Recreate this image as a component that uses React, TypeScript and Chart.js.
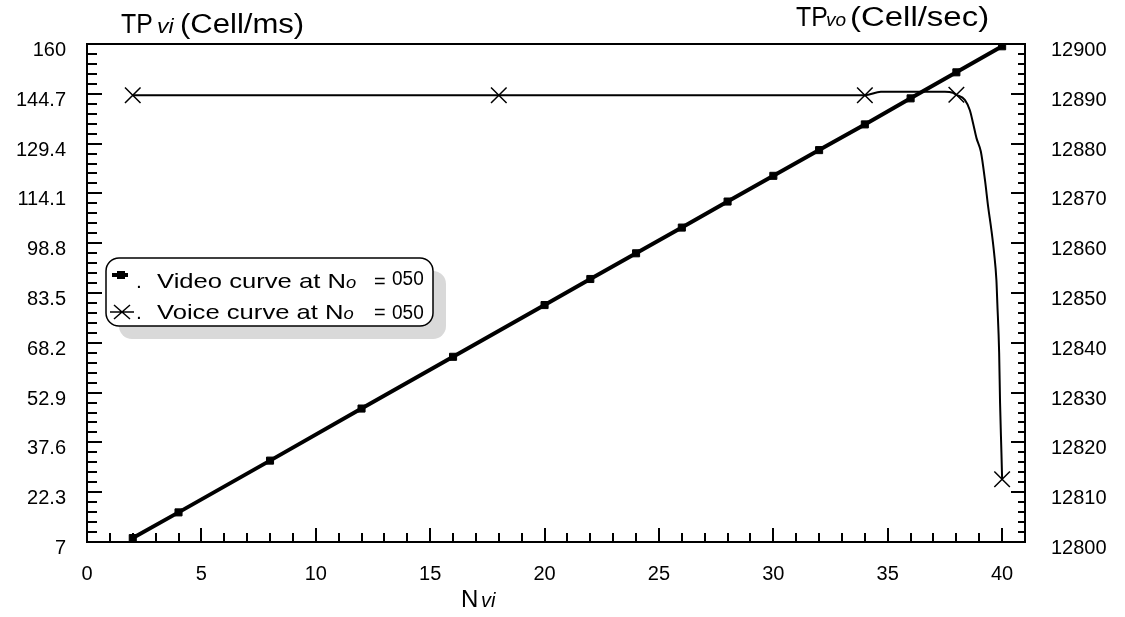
import React, { useEffect, useRef } from "react";
import { Chart, registerables } from "chart.js";

Chart.register(...registerables);

// Video throughput (Cell/ms) against number of video sources
const videoX = [2, 4, 8, 12, 16, 20, 22, 24, 26, 28, 30, 32, 34, 36, 38, 40];
const videoY = [8.2, 16.1, 32.0, 48.0, 63.9, 79.8, 87.8, 95.7, 103.6, 111.6, 119.5, 127.4, 135.3, 143.3, 151.3, 159.3];

const voiceX = [2, 18, 34, 34.7, 37.5, 37.85, 38, 38.37, 38.59, 38.73, 38.88, 39.07, 39.25, 39.39, 39.53, 39.65, 39.75, 39.79, 39.87, 39.91, 39.97, 40];
const voiceY = [12889.7, 12889.7, 12889.7, 12890.4, 12890.4, 12890.2, 12889.8, 12888.8, 12886.7, 12884.1, 12881.1, 12878.4, 12872.7, 12867.3, 12862.7, 12858.0, 12852.6, 12848.0, 12838.0, 12827.9, 12817.9, 12812.6];
const voiceMarked = [2, 18, 34, 38, 40];

// Axis ticks
const xTicks = [0, 5, 10, 15, 20, 25, 30, 35, 40];
const leftTicks = [7, 22.3, 37.6, 52.9, 68.2, 83.5, 98.8, 114.1, 129.4, 144.7, 160];
const rightTicks = [12800, 12810, 12820, 12830, 12840, 12850, 12860, 12870, 12880, 12890, 12900];

const FONT = "'Liberation Sans', Arial, sans-serif";

// Draws text with an optional horizontal stretch; returns the drawn width
function stretchText(
  ctx: CanvasRenderingContext2D,
  s: string,
  x: number,
  y: number,
  font: string,
  align: CanvasTextAlign,
  sx = 1
) {
  ctx.save();
  ctx.font = font;
  const w = ctx.measureText(s).width * sx;
  ctx.translate(x, y);
  ctx.scale(sx, 1);
  ctx.textAlign = align;
  ctx.textBaseline = "alphabetic";
  ctx.fillText(s, 0, 0);
  ctx.restore();
  return w;
}

const framePlugin = {
  id: "frame",
  afterDatasetsDraw(chart: any) {
    const { ctx, chartArea: a, scales } = chart;
    const xs = scales.x;
    const yl = scales.y;
    const yr = scales.y2;
    ctx.save();
    ctx.strokeStyle = "#000";
    ctx.fillStyle = "#000";

    // frame
    ctx.lineWidth = 2;
    ctx.strokeRect(a.left, a.top, a.right - a.left, a.bottom - a.top);

    // inward tick marks
    ctx.lineWidth = 2;
    ctx.beginPath();
    for (let v = 1; v <= 40; v++) {
      const px = Math.round(xs.getPixelForValue(v));
      const len = v % 5 === 0 ? 14 : 9;
      ctx.moveTo(px, a.bottom);
      ctx.lineTo(px, a.bottom - len);
    }
    for (let i = 0; i < leftTicks.length - 1; i++) {
      const step = (leftTicks[i + 1] - leftTicks[i]) / 5;
      for (let k = 0; k < 5; k++) {
        if (i === 0 && k === 0) continue;
        const py = Math.round(yl.getPixelForValue(leftTicks[i] + k * step));
        ctx.moveTo(a.left, py);
        ctx.lineTo(a.left + (k === 0 ? 15 : 10), py);
      }
    }
    for (let i = 0; i < rightTicks.length - 1; i++) {
      const step = (rightTicks[i + 1] - rightTicks[i]) / 5;
      for (let k = 0; k < 5; k++) {
        if (i === 0 && k === 0) continue;
        const py = Math.round(yr.getPixelForValue(rightTicks[i] + k * step));
        ctx.moveTo(a.right, py);
        ctx.lineTo(a.right - (k === 0 ? 14 : 7), py);
      }
    }
    ctx.stroke();

    // tick labels
    const tickFont = `20px ${FONT}`;
    xTicks.forEach((v) => {
      stretchText(ctx, String(v), xs.getPixelForValue(v), 580, tickFont, "center");
    });
    leftTicks.forEach((v) => {
      stretchText(ctx, String(v), 66, yl.getPixelForValue(v) + 12, tickFont, "right");
    });
    rightTicks.forEach((v) => {
      stretchText(ctx, String(v), 1051, yr.getPixelForValue(v) + 12, tickFont, "left");
    });

    // axis titles
    const big = `27px ${FONT}`;
    stretchText(ctx, "TP", 121, 33, big, "left", 0.92);
    stretchText(ctx, "vi", 157, 33, `italic 21px ${FONT}`, "left", 1.1);
    stretchText(ctx, "(Cell/ms)", 180, 33, big, "left", 1.15);

    stretchText(ctx, "TP", 796, 26, big, "left", 0.92);
    stretchText(ctx, "vo", 826, 26, `italic 19px ${FONT}`, "left", 1.0);
    stretchText(ctx, "(Cell/sec)", 850, 26, big, "left", 1.22);

    stretchText(ctx, "N", 461, 607, `24px ${FONT}`, "left");
    stretchText(ctx, "vi", 481, 607, `italic 20px ${FONT}`, "left");

    // legend box with drop shadow
    const lx = 106, ly = 258, lw = 327, lh = 68, r = 13;
    const rr = (x: number, y: number) => {
      ctx.beginPath();
      ctx.moveTo(x + r, y);
      ctx.arcTo(x + lw, y, x + lw, y + lh, r);
      ctx.arcTo(x + lw, y + lh, x, y + lh, r);
      ctx.arcTo(x, y + lh, x, y, r);
      ctx.arcTo(x, y, x + lw, y, r);
      ctx.closePath();
    };
    ctx.fillStyle = "#d9d9d9";
    rr(lx + 13, ly + 13);
    ctx.fill();
    ctx.fillStyle = "#fff";
    rr(lx, ly);
    ctx.fill();
    ctx.lineWidth = 1.5;
    ctx.strokeStyle = "#000";
    ctx.stroke();

    ctx.fillStyle = "#000";
    // video sample
    ctx.lineWidth = 4;
    ctx.beginPath();
    ctx.moveTo(112, 275);
    ctx.lineTo(128, 275);
    ctx.stroke();
    ctx.fillRect(117, 271, 8, 8);
    // voice sample
    ctx.lineWidth = 1.5;
    ctx.beginPath();
    ctx.moveTo(110, 312);
    ctx.lineTo(134, 312);
    ctx.moveTo(114, 305);
    ctx.lineTo(130, 319);
    ctx.moveTo(130, 305);
    ctx.lineTo(114, 319);
    ctx.stroke();

    const lf = `21px ${FONT}`;
    const rows: [string, number, number][] = [
      ["Video curve at N", 288, 285],
      ["Voice curve at N", 319, 319],
    ];
    rows.forEach(([label, base, numBase]) => {
      stretchText(ctx, ".", 136, base, lf, "left");
      const w = stretchText(ctx, label, 157, base, lf, "left", 1.22);
      stretchText(ctx, "o", 157 + w, base, `italic 16px ${FONT}`, "left", 1.15);
      stretchText(ctx, "=", 374, base, lf, "left", 0.95);
      stretchText(ctx, "050", 392, numBase, `20px ${FONT}`, "left", 0.95);
    });

    ctx.restore();
  },
};

export default function App() {
  const ref = useRef<HTMLCanvasElement | null>(null);

  useEffect(() => {
    if (!ref.current) return;
    const videoData = videoX.map((x, i) => ({ x, y: videoY[i] }));
    const voiceData = voiceX.map((x, i) => ({ x, y: voiceY[i] }));
    const voiceRadius = voiceX.map((x) => (voiceMarked.includes(x) ? 11 : 0));

    const zeroW = (s: any) => {
      s.width = 0;
    };
    const zeroH = (s: any) => {
      s.height = 0;
    };

    const chart = new Chart(ref.current, {
      type: "line",
      data: {
        datasets: [
          {
            label: "Video",
            data: videoData,
            yAxisID: "y",
            borderColor: "#000",
            backgroundColor: "#000",
            borderWidth: 4,
            pointStyle: "rect",
            pointRadius: 5,
            pointBorderWidth: 1,
            tension: 0,
          },
          {
            label: "Voice",
            data: voiceData,
            yAxisID: "y2",
            borderColor: "#000",
            backgroundColor: "#000",
            borderWidth: 2,
            pointStyle: "crossRot",
            pointRadius: voiceRadius,
            pointBorderWidth: 1.5,
            cubicInterpolationMode: "monotone",
          },
        ],
      },
      options: {
        animation: false,
        responsive: false,
        maintainAspectRatio: false,
        layout: { padding: { left: 87, right: 100, top: 44, bottom: 75 } },
        plugins: { legend: { display: false }, tooltip: { enabled: false } },
        scales: {
          x: {
            type: "linear",
            min: 0,
            max: 41,
            afterFit: zeroH,
            ticks: { display: false },
            grid: { display: false },
            border: { display: false },
          },
          y: {
            type: "linear",
            position: "left",
            min: 7,
            max: 160,
            afterFit: zeroW,
            ticks: { display: false },
            grid: { display: false },
            border: { display: false },
          },
          y2: {
            type: "linear",
            position: "right",
            min: 12800,
            max: 12900,
            afterFit: zeroW,
            ticks: { display: false },
            grid: { display: false },
            border: { display: false },
          },
        },
      },
      plugins: [framePlugin],
    });
    return () => chart.destroy();
  }, []);

  return (
    <div style={{ position: "fixed", left: 0, top: 0, width: 1125, height: 617, background: "#fff" }}>
      <canvas ref={ref} width={1125} height={617} style={{ display: "block" }} />
    </div>
  );
}
